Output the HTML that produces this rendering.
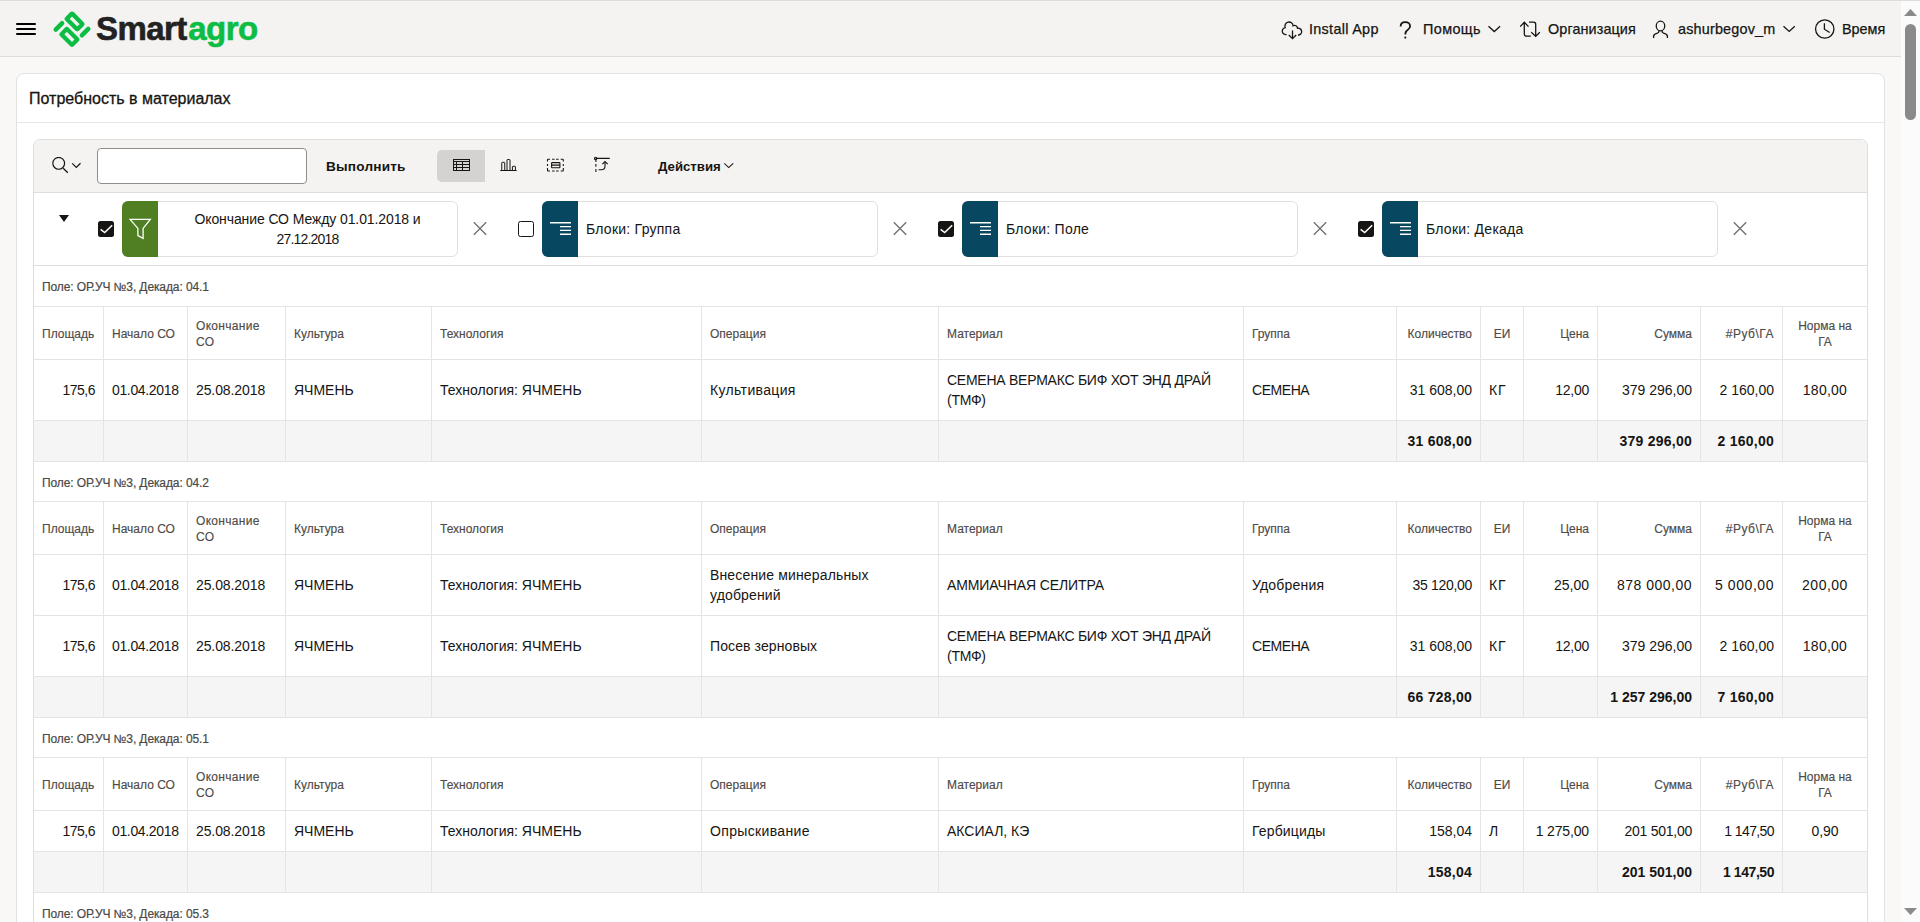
<!DOCTYPE html>
<html lang="ru">
<head>
<meta charset="utf-8">
<title>Потребность в материалах</title>
<style>
*{box-sizing:border-box;}
html,body{margin:0;padding:0;}
body{width:1920px;height:922px;overflow:hidden;background:#f9f8f6;font-family:"Liberation Sans","DejaVu Sans",sans-serif;color:#161513;position:relative;}
.topline{position:absolute;left:0;top:0;width:1920px;height:1px;background:#dcdcdc;}
.hdr{position:absolute;left:0;top:1px;width:1901px;height:56px;background:#f4f3f1;border-bottom:1px solid #dedcda;}
.burger{position:absolute;left:16px;top:22px;width:20px;height:12px;}
.burger i{position:absolute;left:0;width:20px;height:2px;background:#000;border-radius:1px;}
.logo{position:absolute;left:53px;top:11px;}
.logotxt{position:absolute;left:96px;top:8px;font-size:33px;font-weight:bold;letter-spacing:-0.55px;color:#222;-webkit-text-stroke:0.6px #222;line-height:40px;}
.logotxt span{color:#0cbd45;margin-left:1.5px;-webkit-text-stroke:0.6px #0cbd45;}
.nav{position:absolute;top:17px;height:22px;font-size:14.4px;line-height:22px;color:#161513;white-space:nowrap;-webkit-text-stroke:0.25px #161513;}
.nav svg{position:absolute;}
/* scrollbar */
.sb{position:absolute;left:1901px;top:1px;width:19px;height:921px;background:#fbfbfb;}
.sb .thumb{position:absolute;left:4px;top:23px;width:11px;height:96px;border-radius:5.5px;background:#8a8a8a;}
/* region */
.region{position:absolute;left:16px;top:73px;width:1869px;height:900px;background:#fff;border:1px solid #e4e2e0;border-radius:8px;}
.rtitle{position:absolute;left:12px;top:16px;font-size:16px;color:#161513;-webkit-text-stroke:0.3px #161513;}
.rsep{position:absolute;left:0;top:48px;width:100%;height:1px;background:#e8e6e4;}

.ir{position:absolute;left:16px;top:65px;width:1835px;height:900px;border:1px solid #e0dedc;border-radius:7px 7px 0 0;background:#fff;overflow:hidden;}
.tb{position:absolute;left:0;top:0;width:100%;height:53px;background:#f4f3f1;border-bottom:1px solid #e0dedc;}
.tb svg{position:absolute;}
.sinp{position:absolute;left:63px;top:8px;width:210px;height:36px;border:1px solid #8f8d8b;border-radius:4px;background:#fff;}
.go{position:absolute;left:292px;top:17px;font-size:13.6px;font-weight:bold;letter-spacing:0.2px;line-height:20px;color:#161513;}
.vbtn{position:absolute;left:403px;top:10px;width:48px;height:32px;background:#d5d3d1;border-radius:5px 0 0 5px;}
.act{position:absolute;left:624px;top:17px;font-size:13.2px;font-weight:bold;line-height:20px;color:#161513;}
.flt{position:absolute;left:0;top:53px;width:100%;height:73px;border-bottom:1px solid #e0dedc;background:#fff;}
.tri{position:absolute;left:25px;top:22px;width:0;height:0;border-left:5.3px solid transparent;border-right:5.3px solid transparent;border-top:7.8px solid #161513;}
.cb{position:absolute;top:28px;width:16px;height:16px;border-radius:2.5px;}
.cb.on{background:#161513;}
.cb.off{border:1.5px solid #161513;background:#fff;}
.cb svg{position:absolute;left:0;top:0;}
.chip{position:absolute;top:8px;width:336px;height:56px;border:1px solid #e2e0de;border-radius:6px;background:#fff;}
.chip .ic{position:absolute;left:-1px;top:-1px;width:36px;height:56px;border-radius:6px 0 0 6px;overflow:hidden;}
.chip .ic.g{background:#4f7f22;}
.chip .ic.b{background:#07475f;}
.chip .ic svg{position:absolute;left:0;top:0;}
.chip .t{position:absolute;left:43px;top:0px;height:54px;display:flex;align-items:center;font-size:14px;letter-spacing:0.25px;line-height:20px;color:#161513;}
.chip .t.c{left:35px;right:0;justify-content:center;text-align:center;font-size:14px;letter-spacing:-0.1px;}
.xx{position:absolute;}
.tbl{position:absolute;left:0;top:126px;width:1833px;}
.r{display:grid;grid-template-columns:70px 84px 98px 146px 270px 237px 305px 153px 84px 43px 74px 103px 82px 84px;border-bottom:1px solid #e4e4e4;}
.r>div{border-right:1px solid #e4e4e4;padding:0 8px;display:flex;align-items:center;overflow:hidden;}
.r>div:last-child{border-right:none;}
.r .R{justify-content:flex-end;text-align:right;}
.r .C{justify-content:center;text-align:center;}
.h{height:53px;font-size:12px;line-height:16px;color:#4f4b48;-webkit-text-stroke:0.15px #4f4b48;}
.h>div{padding-top:2px;}
.d{height:61px;font-size:14px;line-height:20px;color:#161513;}
.d.s{height:41px;}
.tot{height:41px;background:#f5f5f5;font-size:14px;font-weight:bold;color:#161513;letter-spacing:0.25px;}
.brk{height:41px;border-bottom:1px solid #e4e4e4;padding-left:8px;padding-top:2px;display:flex;align-items:center;font-size:12px;letter-spacing:-0.1px;color:#4b4845;-webkit-text-stroke:0.2px #4b4845;}
.brk.n{height:40px;}

</style>
</head>
<body>
<div class="topline"></div>
<div class="hdr">
  <div class="burger"><i style="top:0"></i><i style="top:5px"></i><i style="top:10px"></i></div>
  <svg class="logo" style="position:absolute;left:48px;top:5px" width="48" height="46" viewBox="0 0 48 46">
    <g transform="translate(24 23.2) rotate(45)">
      <rect x="-11.10" y="-11.15" width="15" height="7.7" rx="0.6" fill="none" stroke="#0cbd45" stroke-width="4.3"/>
      <rect x="-3.90" y="3.45" width="15" height="7.7" rx="0.6" fill="none" stroke="#0cbd45" stroke-width="4.3"/>
      <rect x="9.05" y="-13.9" width="4.5" height="13.4" rx="2.1" fill="#0cbd45"/>
      <rect x="-13.55" y="0.5" width="4.5" height="13.4" rx="2.1" fill="#0cbd45"/>
    </g></svg>
  <div class="logotxt">Smart<span>agro</span></div>
  <svg style="position:absolute;left:1278px;top:15px" width="28" height="26" viewBox="0 0 28 26"><g fill="none" stroke="#161513" stroke-width="1.3" stroke-linecap="butt"><path d="M8.60 18.60 A3.6 3.6 0 1 1 7.16 11.54 A4.1 4.1 0 1 1 15.09 9.82 A2.9 2.9 0 0 1 19.50 12.30 A3.4 3.4 0 1 1 20.00 19.00"/><path d="M14.5 14.6 V22.4 M10.8 19 L14.5 22.6 L18.2 19"/></g></svg>
  <div class="nav" style="left:1309px;letter-spacing:0.3px">Install App</div>
  <svg style="position:absolute;left:1394px;top:15px" width="24" height="26" viewBox="0 0 24 26"><g fill="none" stroke="#161513" stroke-linecap="butt" stroke-width="1.8"><path d="M6.6 10.4 C6.6 7.6 8.6 6.1 11.3 6.1 C14.0 6.1 16.1 7.8 16.1 10.2 C16.1 12.6 14.1 13.4 12.5 15 C11.6 15.9 11.3 16.8 11.3 18.4"/></g><circle cx="11.3" cy="21.6" r="1.05" fill="#161513"/></svg>
  <div class="nav" style="left:1423px;letter-spacing:0.4px">Помощь</div>
  <svg style="position:absolute;left:1484px;top:17px" width="20" height="20" viewBox="0 0 20 20"><path d="M4.5 8.2 L10.3 13.6 L16.1 8.2" fill="none" stroke="#161513" stroke-width="1.3" stroke-linecap="butt"/></svg>
  <svg style="position:absolute;left:1516px;top:17px" width="28" height="22" viewBox="0 0 28 22"><g fill="none" stroke="#161513" stroke-width="1.3" stroke-linecap="butt"><path d="M4.2 8.6 L8.3 4.3 L12.5 8.6 M8.3 4.3 V16 Q8.3 18.2 10.5 18.2 H14.8"/><path d="M13 4.2 H17.6 Q19.7 4.2 19.7 6.4 V18.2 M15.3 14.2 L19.7 18.4 L23.8 14.2"/></g></svg>
  <div class="nav" style="left:1548px;letter-spacing:0.1px">Организация</div>
  <svg style="position:absolute;left:1648px;top:15px" width="26" height="24" viewBox="0 0 26 24"><g fill="none" stroke="#161513" stroke-width="1.3" stroke-linecap="butt"><ellipse cx="12.5" cy="10" rx="4.25" ry="4.85"/><path d="M5.6 21.9 V20.2 C5.6 18.4 7.6 17.6 9.4 17.1 C10.7 16.7 11 15.9 11 14.7 M19.4 21.9 V20.2 C19.4 18.4 17.4 17.6 15.6 17.1 C14.3 16.7 14 15.9 14 14.7"/></g></svg>
  <div class="nav" style="left:1678px;letter-spacing:0.18px">ashurbegov_m</div>
  <svg style="position:absolute;left:1776px;top:17px" width="20" height="20" viewBox="0 0 20 20"><path d="M7.5 8.3 L13.2 13.4 L18.8 8.3" fill="none" stroke="#161513" stroke-width="1.3" stroke-linecap="butt"/></svg>
  <svg style="position:absolute;left:1812px;top:16px" width="26" height="26" viewBox="0 0 26 26"><g fill="none" stroke="#161513" stroke-width="1.3" stroke-linecap="butt"><circle cx="12.75" cy="12" r="9.2"/><path d="M12.4 6.2 V12.2 L17.7 15.5"/></g></svg>
  <div class="nav" style="left:1842px">Время</div>
</div>
<div class="region">
  <div class="rtitle">Потребность в материалах</div>
  <div class="rsep"></div>
  <div class="ir">
    <div class="tb">
      <svg style="left:18px;top:17px" width="32" height="20" viewBox="0 0 32 20"><circle cx="6.7" cy="6.35" r="5.9" fill="none" stroke="#161513" stroke-width="1.2"/><path d="M11.2 11.2 L15.8 15.7" stroke="#161513" stroke-width="1.3"/><path d="M20.2 6.3 L24.3 10.4 L28.5 6.3" fill="none" stroke="#161513" stroke-width="1.2"/></svg>
      <div class="sinp"></div>
      <div class="go">Выполнить</div>
      <div class="vbtn"></div>
      <svg style="left:416px;top:14px" width="24" height="22" viewBox="0 0 24 22"><g fill="none" stroke="#161513" stroke-width="1"><rect x="3.5" y="5.5" width="16" height="11"/><path d="M3.5 7.5H19.5M3.5 10.5H19.5M3.5 13.5H19.5M6.5 7.5V16.5M12.5 7.5V16.5"/></g></svg>
      <svg style="left:462px;top:14px" width="24" height="22" viewBox="0 0 24 22"><g fill="none" stroke="#161513" stroke-width="1"><path d="M4.3 16.5H20.6"/><path d="M5.75 16.5V8.9Q5.75 8.3 6.35 8.3H8.15Q8.75 8.3 8.75 8.9V16.5"/><path d="M11 16.5V6.1Q11 5.5 11.6 5.5H13.4Q14 5.5 14 6.1V16.5"/><path d="M16.4 16.5V12.9Q16.4 12.3 17 12.3H18.8Q19.4 12.3 19.4 12.9V16.5"/></g></svg>
      <svg style="left:509px;top:14px" width="24" height="22" viewBox="0 0 24 22"><g fill="none" stroke="#161513" stroke-width="1.1"><path d="M4.5 7.6V5.9Q4.5 5.3 5.1 5.3H7"/><path d="M9.1 5.3H11.6M13.1 5.3H15.6"/><path d="M17.7 5.3H19.6Q20.3 5.3 20.3 6V7.6"/><path d="M4.5 10.1V11.9M20.3 10.1V11.9"/><path d="M4.5 14.1V16.4Q4.5 17 5.1 17H7M9.1 17H11.6M13.1 17H15.6M17.7 17H19.6Q20.3 17 20.3 16.4V14.1"/><rect x="8.6" y="8.6" width="8.3" height="5.2" rx="0.6"/><path d="M8.6 11.1H16.9"/></g></svg>
      <svg style="left:556px;top:12px" width="24" height="24" viewBox="0 0 24 24"><g fill="none" stroke="#161513" stroke-width="1.1"><path d="M5.6 6.4H19.8"/><circle cx="5.6" cy="6.4" r="1.2"/><path d="M5.9 7.8V9.9M5.9 12V14.8M5.9 16.9V20"/><path d="M8.6 17.7H11.3Q15 17.7 15 13.9V10"/><path d="M12.4 12.2L15 9.5L17.7 12.2"/></g></svg>
      <div class="act">Действия</div>
      <svg style="left:690px;top:21px" width="11" height="8" viewBox="0 0 11 8"><path d="M0.3 2.4 L4.7 6.6 L9.2 2.4" fill="none" stroke="#161513" stroke-width="1.1"/></svg>
    </div>
    <div class="flt">
      <div class="tri"></div>
      <div class="cb on" style="left:64px"><svg width="16" height="16" viewBox="0 0 16 16"><path d="M2.6 8.3 L6.7 11.6 L14.2 4.2" fill="none" stroke="#fff" stroke-width="1.5"/></svg></div>
      <div class="chip" style="left:88px"><div class="ic g"><svg width="37" height="56" viewBox="0 0 37 56"><path d="M8.1 18.3 H28.3 L21.1 27.4 V37.4 L15.9 34.6 V27.4 Z" fill="none" stroke="#fff" stroke-width="1.3" stroke-linejoin="miter"/></svg></div><div class="t c"><div>Окончание СО Между 01.01.2018 и<br><span style="letter-spacing:-0.8px">27.12.2018</span></div></div></div>
      <svg class="xx" style="left:439px;top:29px" width="14" height="14" viewBox="0 0 14 14"><path d="M0.8 0.3L13.2 12.7M13.2 0.3L0.8 12.7" stroke="#737170" stroke-width="1.4" fill="none"/></svg>
      <div class="cb off" style="left:484px"></div>
      <div class="chip" style="left:508px"><div class="ic b"><svg width="37" height="56" viewBox="0 0 37 56"><g stroke="#fff" fill="none"><path d="M8 21.8H29" stroke-width="1.6"/><path d="M18 25.6H29M18 29.4H29M18 33.2H29" stroke-width="1.4"/></g></svg></div><div class="t">Блоки: Группа</div></div>
      <svg class="xx" style="left:859px;top:29px" width="14" height="14" viewBox="0 0 14 14"><path d="M0.8 0.3L13.2 12.7M13.2 0.3L0.8 12.7" stroke="#737170" stroke-width="1.4" fill="none"/></svg>
      <div class="cb on" style="left:904px"><svg width="16" height="16" viewBox="0 0 16 16"><path d="M2.6 8.3 L6.7 11.6 L14.2 4.2" fill="none" stroke="#fff" stroke-width="1.5"/></svg></div>
      <div class="chip" style="left:928px"><div class="ic b"><svg width="37" height="56" viewBox="0 0 37 56"><g stroke="#fff" fill="none"><path d="M8 21.8H29" stroke-width="1.6"/><path d="M18 25.6H29M18 29.4H29M18 33.2H29" stroke-width="1.4"/></g></svg></div><div class="t">Блоки: Поле</div></div>
      <svg class="xx" style="left:1279px;top:29px" width="14" height="14" viewBox="0 0 14 14"><path d="M0.8 0.3L13.2 12.7M13.2 0.3L0.8 12.7" stroke="#737170" stroke-width="1.4" fill="none"/></svg>
      <div class="cb on" style="left:1324px"><svg width="16" height="16" viewBox="0 0 16 16"><path d="M2.6 8.3 L6.7 11.6 L14.2 4.2" fill="none" stroke="#fff" stroke-width="1.5"/></svg></div>
      <div class="chip" style="left:1348px"><div class="ic b"><svg width="37" height="56" viewBox="0 0 37 56"><g stroke="#fff" fill="none"><path d="M8 21.8H29" stroke-width="1.6"/><path d="M18 25.6H29M18 29.4H29M18 33.2H29" stroke-width="1.4"/></g></svg></div><div class="t">Блоки: Декада</div></div>
      <svg class="xx" style="left:1699px;top:29px" width="14" height="14" viewBox="0 0 14 14"><path d="M0.8 0.3L13.2 12.7M13.2 0.3L0.8 12.7" stroke="#737170" stroke-width="1.4" fill="none"/></svg>
    </div>
    <div class="tbl">
<div class="brk">Поле: ОР.УЧ №3, Декада: 04.1</div>
<div class="r h"><div>Площадь</div><div>Начало СО</div><div style="letter-spacing:0.3px">Окончание<br>СО</div><div>Культура</div><div>Технология</div><div>Операция</div><div>Материал</div><div>Группа</div><div class="R">Количество</div><div class="C">ЕИ</div><div class="R">Цена</div><div class="R">Сумма</div><div class="R" style="letter-spacing:0.5px">#Руб\ГА</div><div class="C">Норма на<br>ГА</div></div>
<div class="r d"><div class="R" style="letter-spacing:-0.5px">175,6</div><div style="letter-spacing:-0.35px">01.04.2018</div><div style="letter-spacing:-0.1px">25.08.2018</div><div>ЯЧМЕНЬ</div><div>Технология: ЯЧМЕНЬ</div><div style="letter-spacing:0.35px">Культивация</div><div style="letter-spacing:-0.25px">СЕМЕНА ВЕРМАКС БИФ ХОТ ЭНД ДРАЙ (ТМФ)</div><div style="letter-spacing:-0.45px">СЕМЕНА</div><div class="R">31 608,00</div><div style="letter-spacing:0.75px">КГ</div><div class="R" style="letter-spacing:-0.25px">12,00</div><div class="R">379 296,00</div><div class="R">2 160,00</div><div class="C" style="letter-spacing:0.25px">180,00</div></div>
<div class="r tot"><div></div><div></div><div></div><div></div><div></div><div></div><div></div><div></div><div class="R">31 608,00</div><div></div><div></div><div class="R">379 296,00</div><div class="R">2 160,00</div><div></div></div>
<div class="brk n">Поле: ОР.УЧ №3, Декада: 04.2</div>
<div class="r h"><div>Площадь</div><div>Начало СО</div><div style="letter-spacing:0.3px">Окончание<br>СО</div><div>Культура</div><div>Технология</div><div>Операция</div><div>Материал</div><div>Группа</div><div class="R">Количество</div><div class="C">ЕИ</div><div class="R">Цена</div><div class="R">Сумма</div><div class="R" style="letter-spacing:0.5px">#Руб\ГА</div><div class="C">Норма на<br>ГА</div></div>
<div class="r d"><div class="R" style="letter-spacing:-0.5px">175,6</div><div style="letter-spacing:-0.35px">01.04.2018</div><div style="letter-spacing:-0.1px">25.08.2018</div><div>ЯЧМЕНЬ</div><div>Технология: ЯЧМЕНЬ</div><div style="letter-spacing:0.15px">Внесение минеральных удобрений</div><div style="letter-spacing:-0.1px">АММИАЧНАЯ СЕЛИТРА</div><div style="letter-spacing:0.2px">Удобрения</div><div class="R" style="letter-spacing:-0.3px">35 120,00</div><div style="letter-spacing:0.75px">КГ</div><div class="R">25,00</div><div class="R" style="letter-spacing:0.5px">878 000,00</div><div class="R" style="letter-spacing:0.55px">5 000,00</div><div class="C" style="letter-spacing:0.5px">200,00</div></div>
<div class="r d"><div class="R" style="letter-spacing:-0.5px">175,6</div><div style="letter-spacing:-0.35px">01.04.2018</div><div style="letter-spacing:-0.1px">25.08.2018</div><div>ЯЧМЕНЬ</div><div>Технология: ЯЧМЕНЬ</div><div style="letter-spacing:0.1px">Посев зерновых</div><div style="letter-spacing:-0.25px">СЕМЕНА ВЕРМАКС БИФ ХОТ ЭНД ДРАЙ (ТМФ)</div><div style="letter-spacing:-0.45px">СЕМЕНА</div><div class="R">31 608,00</div><div style="letter-spacing:0.75px">КГ</div><div class="R" style="letter-spacing:-0.25px">12,00</div><div class="R">379 296,00</div><div class="R">2 160,00</div><div class="C" style="letter-spacing:0.25px">180,00</div></div>
<div class="r tot"><div></div><div></div><div></div><div></div><div></div><div></div><div></div><div></div><div class="R">66 728,00</div><div></div><div></div><div class="R" style="letter-spacing:0px">1 257 296,00</div><div class="R">7 160,00</div><div></div></div>
<div class="brk n">Поле: ОР.УЧ №3, Декада: 05.1</div>
<div class="r h"><div>Площадь</div><div>Начало СО</div><div style="letter-spacing:0.3px">Окончание<br>СО</div><div>Культура</div><div>Технология</div><div>Операция</div><div>Материал</div><div>Группа</div><div class="R">Количество</div><div class="C">ЕИ</div><div class="R">Цена</div><div class="R">Сумма</div><div class="R" style="letter-spacing:0.5px">#Руб\ГА</div><div class="C">Норма на<br>ГА</div></div>
<div class="r d s"><div class="R" style="letter-spacing:-0.5px">175,6</div><div style="letter-spacing:-0.35px">01.04.2018</div><div style="letter-spacing:-0.1px">25.08.2018</div><div>ЯЧМЕНЬ</div><div>Технология: ЯЧМЕНЬ</div><div style="letter-spacing:0.35px">Опрыскивание</div><div>АКСИАЛ, КЭ</div><div style="letter-spacing:0.15px">Гербициды</div><div class="R">158,04</div><div>Л</div><div class="R" style="letter-spacing:-0.15px">1 275,00</div><div class="R" style="letter-spacing:-0.25px">201 501,00</div><div class="R" style="letter-spacing:-0.6px">1 147,50</div><div class="C">0,90</div></div>
<div class="r tot"><div></div><div></div><div></div><div></div><div></div><div></div><div></div><div></div><div class="R">158,04</div><div></div><div></div><div class="R" style="letter-spacing:0px">201 501,00</div><div class="R" style="letter-spacing:-0.45px">1 147,50</div><div></div></div>
<div class="brk n">Поле: ОР.УЧ №3, Декада: 05.3</div>
</div>
  </div>
</div>
<div class="sb"><svg style="position:absolute;left:0;top:0" width="19" height="922" viewBox="0 0 19 922"><path d="M3 15 H16 L9.5 8 Z" fill="#8a8a8a"/><path d="M3 907 H16 L9.5 914 Z" fill="#8a8a8a"/></svg><div class="thumb"></div></div>
</body>
</html>
